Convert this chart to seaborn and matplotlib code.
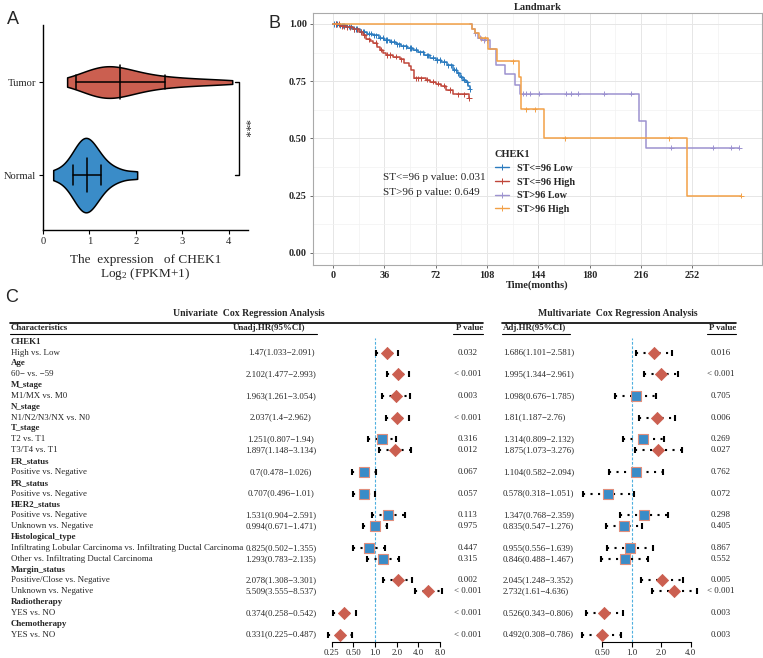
import numpy as np
import pandas as pd
import matplotlib
matplotlib.use('Agg')
import matplotlib.pyplot as plt
import seaborn as sns
from matplotlib.lines import Line2D
from matplotlib.ticker import NullLocator, FixedLocator, FixedFormatter

# ---------------- A: CHEK1 expression (log2 FPKM+1) ----------------
tumor_expr = [0.52, 0.72, 0.85, 0.95, 1.02, 1.08, 1.13, 1.18, 1.22, 1.26, 1.3, 1.34, 1.38, 1.42,
              1.46, 1.5, 1.55, 1.6, 1.65, 1.7, 1.76, 1.82, 1.9, 1.98, 2.06, 2.15, 2.25, 2.37, 2.5,
              2.65, 2.82, 3.0, 3.2, 3.45, 3.75, 4.08]
normal_expr = [0.22, 0.5, 0.62, 0.7, 0.75, 0.8, 0.83, 0.86, 0.89, 0.92, 0.95, 0.98, 1.01,
               1.05, 1.1, 1.15, 1.22, 1.3, 1.45, 1.65, 2.03]
tumor_bar = [0.72, 1.67, 2.62]    # lower, mean, upper
normal_bar = [0.65, 0.95, 1.25]

# ---------------- B: landmark KM curves ----------------
low96_t = [0, 4, 9, 14, 19, 24, 28, 32, 36, 40, 44, 48, 52, 56, 60, 64, 68, 72, 76, 80, 84, 87, 89, 91, 93, 95, 95.8]
low96_s = [1.0, 0.995, 0.988, 0.978, 0.967, 0.958, 0.95, 0.94, 0.93, 0.922, 0.912, 0.903, 0.895, 0.887,
           0.876, 0.864, 0.853, 0.843, 0.834, 0.82, 0.80, 0.785, 0.77, 0.757, 0.745, 0.73, 0.715]
high96_t = [0, 5, 9, 14, 18, 21, 23, 26, 28, 31, 33, 35, 37, 42, 47, 50, 53, 55, 56.6, 65, 68, 72, 76,
            79, 84, 95.4]
high96_s = [1.0, 0.99, 0.985, 0.977, 0.965, 0.95, 0.933, 0.925, 0.918, 0.90, 0.888, 0.875, 0.865, 0.857,
            0.846, 0.83, 0.815, 0.80, 0.763, 0.757, 0.748, 0.74, 0.73, 0.712, 0.693, 0.676]
low_gt_t = [96, 97.2, 99.4, 101.7, 104.7, 110, 114.6, 120.9, 128, 131, 214.6, 219.3, 285.2]
low_gt_s = [1.0, 0.98, 0.96, 0.94, 0.93, 0.89, 0.82, 0.78, 0.735, 0.695, 0.578, 0.46, 0.46]
high_gt_t = [0, 97.5, 100, 102.5, 108.7, 115, 130.4, 131.6, 148.4, 248.3, 286.4]
high_gt_s = [1.0, 0.98, 0.962, 0.937, 0.89, 0.837, 0.767, 0.628, 0.50, 0.25, 0.25]

low96_cens = [1, 2, 3, 5, 6, 7, 8, 10, 11, 13, 15, 16, 17, 20, 21, 22, 25, 27, 29, 30, 33, 35, 37, 38,
              41, 43, 45, 46, 49, 51, 54, 55, 58, 61, 63, 66, 67, 70, 73, 75, 78, 81, 83, 85, 86, 88,
              90, 92, 94, 95.8]
high96_cens = [2, 4, 6, 8, 10, 12, 15, 17, 20, 22, 25, 30, 34, 38, 40, 44, 48, 58, 60, 62, 66, 70, 74,
               78, 82, 88, 92, 95.4]
low_gt_cens = [100, 103, 106, 108, 133.2, 135.5, 137.9, 144.9, 163.6, 167.1, 171.8, 190.5, 209.2,
               237.3, 266.5, 279.4, 285.2]
high_gt_cens = [104, 107, 126.2, 135.6, 141.4, 162.5, 236.1, 286.4]

km_groups = ['ST<=96 Low', 'ST<=96 High', 'ST>96 Low', 'ST>96 High']
km_colors = ['#2B7BBF', '#C0463A', '#9C92D0', '#F2A046']
pvals_text = ['ST<=96 p value: 0.031', 'ST>96 p value: 0.649']

# ---------------- C: Cox regression tables ----------------
groups = ['CHEK1', 'Age', 'M_stage', 'N_stage', 'T_stage', 'ER_status', 'PR_status',
          'HER2_status', 'Histological_type', 'Margin_status', 'Radiotherapy', 'Chemotherapy']
comparisons = [['High vs. Low'], ['60\u2212 vs. \u221259'], ['M1/MX vs. M0'], ['N1/N2/N3/NX vs. N0'],
               ['T2 vs. T1', 'T3/T4 vs. T1'], ['Positive vs. Negative'], ['Positive vs. Negative'],
               ['Positive vs. Negative', 'Unknown vs. Negative'],
               ['Infiltrating Lobular Carcinoma vs. Infiltrating Ductal Carcinoma',
                'Other vs. Infiltrating Ductal Carcinoma'],
               ['Positive/Close vs. Negative', 'Unknown vs. Negative'], ['YES vs. NO'], ['YES vs. NO']]

uni_hr = [1.47, 2.102, 1.963, 2.037, 1.251, 1.897, 0.7, 0.707, 1.531, 0.994, 0.825, 1.293, 2.078, 5.509, 0.374, 0.331]
uni_lo = [1.033, 1.477, 1.261, 1.4, 0.807, 1.148, 0.478, 0.496, 0.904, 0.671, 0.502, 0.783, 1.308, 3.555, 0.258, 0.225]
uni_hi = [2.091, 2.993, 3.054, 2.962, 1.94, 3.134, 1.026, 1.01, 2.591, 1.471, 1.355, 2.135, 3.301, 8.537, 0.542, 0.487]
uni_p = ['0.032', '< 0.001', '0.003', '< 0.001', '0.316', '0.012', '0.067', '0.057', '0.113', '0.975',
         '0.447', '0.315', '0.002', '< 0.001', '< 0.001', '< 0.001']

multi_hr = [1.686, 1.995, 1.098, 1.81, 1.314, 1.875, 1.104, 0.578, 1.347, 0.835, 0.955, 0.846, 2.045, 2.732, 0.526, 0.492]
multi_lo = [1.101, 1.344, 0.676, 1.187, 0.809, 1.073, 0.582, 0.318, 0.768, 0.547, 0.556, 0.488, 1.248, 1.61, 0.343, 0.308]
multi_hi = [2.581, 2.961, 1.785, 2.76, 2.132, 3.276, 2.094, 1.051, 2.359, 1.276, 1.639, 1.467, 3.352, 4.636, 0.806, 0.786]
multi_p = ['0.016', '< 0.001', '0.705', '0.006', '0.269', '0.027', '0.762', '0.072', '0.298', '0.405',
           '0.867', '0.552', '0.005', '< 0.001', '0.003', '0.003']

uni_ticks = [0.25, 0.5, 1.0, 2.0, 4.0, 8.0]
uni_ticklabels = ['0.25', '0.50', '1.0', '2.0', '4.0', '8.0']
multi_ticks = [0.5, 1.0, 2.0, 4.0]
multi_ticklabels = ['0.50', '1.0', '2.0', '4.0']

RED = '#CB5F50'
BLUE = '#3A8CC8'

sns.set_style('white')
plt.rcParams['font.family'] = ['Liberation Serif', 'DejaVu Serif']
plt.rcParams['mathtext.default'] = 'regular'

W, H = 763, 658
fig = plt.figure(figsize=(W / 100, H / 100), dpi=100)


def box(l, t, r, b):
    return [l / W, 1 - b / H, (r - l) / W, (b - t) / H]


# ===== panel A =====
axA = fig.add_axes(box(43, 25, 248, 230))
order = ['Tumor', 'Normal']
for name, vals, col, wd in [('Tumor', tumor_expr, RED, 0.34), ('Normal', normal_expr, BLUE, 0.8)]:
    part = pd.DataFrame({'group': [name] * len(vals), 'value': vals})
    sns.violinplot(data=part, x='value', y='group', order=order, color=col,
                   cut=0, density_norm='width', inner=None, linewidth=1.1, linecolor='black',
                   width=wd, bw_adjust=0.9, saturation=1, ax=axA)
for i, (lo, mid, hi) in enumerate([tumor_bar, normal_bar]):
    cap = 0.075 if i == 0 else 0.107
    axA.plot([lo, hi], [i, i], color='black', lw=1.1)
    axA.plot([lo, lo], [i - cap, i + cap], color='black', lw=1.1)
    axA.plot([hi, hi], [i - cap, i + cap], color='black', lw=1.1)
    axA.plot([mid, mid], [i - 0.18, i + 0.18], color='black', lw=1.1)
axA.plot([4.15, 4.22, 4.22, 4.15], [0, 0, 1, 1], color='black', lw=1, clip_on=False)
axA.text(4.36, 0.5, '***', rotation=270, ha='center', va='center', fontsize=9, clip_on=False)
axA.set_xlim(0, 4.42)
axA.set_ylim(1.59, -0.613)
axA.set_xticks([0, 1, 2, 3, 4])
axA.set_ylabel('')
axA.set_xlabel('The  expression   of CHEK1\nLog$_2$ (FPKM+1)', fontsize=9.5, linespacing=0.95, labelpad=6)
axA.tick_params(axis='both', labelsize=7.6, length=3, width=0.8, color='black', direction='out',
                bottom=True, left=True, pad=2)
sns.despine(ax=axA)
for s in ['left', 'bottom']:
    axA.spines[s].set_color('black')
    axA.spines[s].set_linewidth(1)

# ===== panel B =====
axB = fig.add_axes(box(313, 13, 762, 265))
curves = [(low96_t, low96_s, low96_cens), (high96_t, high96_s, high96_cens),
          (low_gt_t, low_gt_s, low_gt_cens), (high_gt_t, high_gt_s, high_gt_cens)]
rows = []
cens_rows = []
for g, (t, s, c) in zip(km_groups, curves):
    for ti, si in zip(t, s):
        rows.append((g, ti, si))
    t_arr = np.array(t)
    idx = np.searchsorted(t_arr, np.array(c), side='right') - 1
    for ci, k in zip(c, idx):
        cens_rows.append((g, ci, s[k]))
km = pd.DataFrame(rows, columns=['group', 'time', 'surv'])
cens = pd.DataFrame(cens_rows, columns=['group', 'time', 'surv'])
pal = dict(zip(km_groups, km_colors))
for g in km_groups:
    sub = km[km.group == g]
    axB.plot(sub.time, sub.surv, drawstyle='steps-post', color=pal[g], lw=1.1)
sns.scatterplot(data=cens, x='time', y='surv', hue='group', palette=pal, marker='+', s=14,
                linewidth=0.7, legend=False, ax=axB)
axB.set_xlim(-14, 301)
axB.set_ylim(-0.0524, 1.048)
axB.set_xticks(np.arange(0, 253, 36))
axB.set_xticks(np.arange(18, 300, 36), minor=True)
axB.set_yticks([0, 0.25, 0.5, 0.75, 1.0])
axB.set_yticks([0.125, 0.375, 0.625, 0.875], minor=True)
axB.set_yticklabels(['0.00', '0.25', '0.50', '0.75', '1.00'])
axB.grid(True, which='major', color='#E6E6E6', lw=0.7)
axB.grid(True, which='minor', color='#F2F2F2', lw=0.5)
axB.tick_params(axis='both', which='major', labelsize=7.3, length=2.5, width=0.6, color='#555555',
                bottom=True, left=True, pad=2)
axB.tick_params(which='minor', length=0)
for lab in axB.get_xticklabels() + axB.get_yticklabels():
    lab.set_fontweight('bold')
for s in axB.spines.values():
    s.set_color('#AAAAAA')
    s.set_linewidth(0.8)
axB.set_xlabel('Time(months)', fontsize=7.5, fontweight='bold', labelpad=0)
axB.set_ylabel('')
axB.set_title('Landmark', fontsize=7.5, fontweight='bold', pad=2)
handles = [Line2D([], [], color=c, lw=1, marker='+', ms=4, mew=0.7) for c in km_colors]
leg = axB.legend(handles, km_groups, title='CHEK1', loc='upper left', bbox_to_anchor=(0.405, 0.455),
                 frameon=False, fontsize=7.3, handlelength=1.4, handletextpad=0.8,
                 labelspacing=0.45, borderpad=0, borderaxespad=0,
                 title_fontproperties={'weight': 'bold', 'size': 7.5})
leg._legend_box.align = 'left'
for tx in leg.get_texts():
    tx.set_fontweight('bold')
axB.text(0.156, 0.349, pvals_text[0], transform=axB.transAxes, fontsize=8, va='center')
axB.text(0.156, 0.286, pvals_text[1], transform=axB.transAxes, fontsize=8, va='center')

# ===== panel C =====
axT = fig.add_axes([0, 0, 1, 1], zorder=-1)
axT.set_xlim(0, W)
axT.set_ylim(H, 0)
axT.axis('off')

ROW0, DY = 341.7, 10.85
FS = 6.4
row_labels = []
row_bold = []
data_rows = []
for g, comps in zip(groups, comparisons):
    row_labels.append(g)
    row_bold.append(True)
    for c in comps:
        data_rows.append(len(row_labels))
        row_labels.append(c)
        row_bold.append(False)

for i, (lab, b) in enumerate(zip(row_labels, row_bold)):
    axT.text(11, ROW0 + DY * i, lab, fontsize=FS, va='center', ha='left',
             fontweight='bold' if b else 'normal')

for k, r in enumerate(data_rows):
    y = ROW0 + DY * r
    axT.text(281, y, f'{uni_hr[k]}({uni_lo[k]}\u2212{uni_hi[k]})', fontsize=FS, va='center', ha='center')
    axT.text(468, y, uni_p[k], fontsize=FS, va='center', ha='center')
    axT.text(503, y, f'{multi_hr[k]}({multi_lo[k]}\u2212{multi_hi[k]})', fontsize=FS, va='center', ha='left')
    axT.text(721, y, multi_p[k], fontsize=FS, va='center', ha='center')

axT.text(249, 313, 'Univariate  Cox Regression Analysis', fontsize=7, fontweight='bold', ha='center', va='center')
axT.text(618, 313, 'Multivariate  Cox Regression Analysis', fontsize=7, fontweight='bold', ha='center', va='center')
hy = 328.5
axT.text(11, hy, 'Characteristics', fontsize=FS, fontweight='bold', va='center')
axT.text(233, hy, 'Unadj.HR(95%CI)', fontsize=FS, fontweight='bold', va='center')
axT.text(483, hy, 'P value', fontsize=FS, fontweight='bold', va='center', ha='right')
axT.text(503, hy, 'Adj.HR(95%CI)', fontsize=FS, fontweight='bold', va='center')
axT.text(736, hy, 'P value', fontsize=FS, fontweight='bold', va='center', ha='right')
axT.plot([10, 483], [322.5, 322.5], color='black', lw=1.2)
axT.plot([502, 736], [322.5, 322.5], color='black', lw=1.2)
for x0, x1 in [(10, 317), (453, 483), (502, 570), (707, 736)]:
    axT.plot([x0, x1], [333.5, 333.5], color='black', lw=0.8)


def forest(ax, hr, lo, hi, p, ticks, ticklabels, xlim):
    y = np.array(data_rows)
    ax.set_xscale('log', base=2)
    ax.axvline(1.0, ymin=0, ymax=0.995, color='#4FB0DF', lw=0.8, ls=(0, (2.5, 1.5)), zorder=1)
    ax.hlines(y, lo, hi, color='black', lw=1.5, ls=(0, (1, 2.6)), zorder=2)
    ax.plot(lo, y, ls='none', marker='|', ms=4, mew=1.5, color='black', zorder=2)
    ax.plot(hi, y, ls='none', marker='|', ms=4, mew=1.5, color='black', zorder=2)
    df = pd.DataFrame({'hr': hr, 'row': y, 'sig': [pp.startswith('<') or float(pp) < 0.05 for pp in p]})
    sns.scatterplot(data=df[df.sig], x='hr', y='row', marker='D', s=38, color=RED,
                    edgecolor=RED, linewidth=0.6, zorder=3, ax=ax, legend=False)
    sns.scatterplot(data=df[~df.sig], x='hr', y='row', marker='s', s=55, color=BLUE,
                    edgecolor='#E08E7C', linewidth=0.8, zorder=3, ax=ax, legend=False)
    ax.set_xlim(*xlim)
    ax.set_ylim((642.3 - ROW0) / DY, (336 - ROW0) / DY)
    ax.xaxis.set_major_locator(FixedLocator(ticks))
    ax.xaxis.set_major_formatter(FixedFormatter(ticklabels))
    ax.xaxis.set_minor_locator(NullLocator())
    ax.set_yticks([])
    ax.set_xlabel('')
    ax.set_ylabel('')
    for s in ['top', 'right', 'left']:
        ax.spines[s].set_visible(False)
    ax.spines['bottom'].set_bounds(ticks[0], ticks[-1])
    ax.spines['bottom'].set_color('black')
    ax.spines['bottom'].set_linewidth(0.8)
    ax.tick_params(axis='x', labelsize=FS, length=3.5, width=0.8, color='black', bottom=True, pad=1.5)
    ax.patch.set_alpha(0)


axU = fig.add_axes(box(324.6, 336, 445.5, 642.3))
forest(axU, uni_hr, uni_lo, uni_hi, uni_p, uni_ticks, uni_ticklabels, (0.2, 9.5))
axM = fig.add_axes(box(577.5, 336, 701.9, 642.3))
forest(axM, multi_hr, multi_lo, multi_hi, multi_p, multi_ticks, multi_ticklabels, (0.28, 5.2))

# panel letters
fig.text(13 / W, 1 - 20 / H, 'A', fontsize=13, family='Liberation Sans', ha='center', va='center')
fig.text(275 / W, 1 - 23 / H, 'B', fontsize=13, family='Liberation Sans', ha='center', va='center')
fig.text(12 / W, 1 - 297 / H, 'C', fontsize=13, family='Liberation Sans', ha='center', va='center')

fig.savefig('out.png', dpi=100)
